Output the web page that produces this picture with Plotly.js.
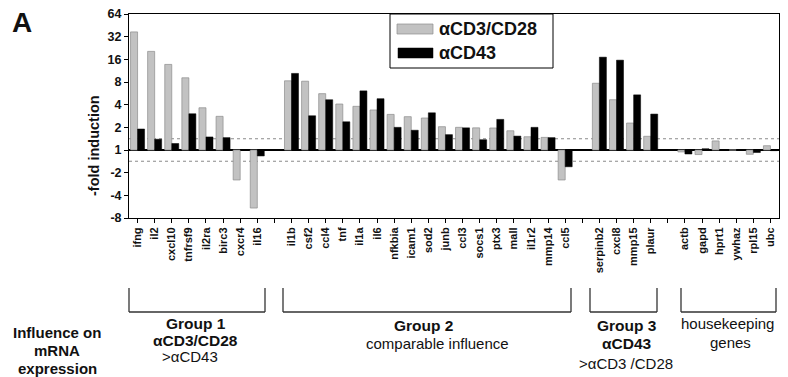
<!DOCTYPE html>
<html>
<head>
<meta charset="utf-8">
<script src="https://cdn.plot.ly/plotly-3.0.1.min.js"></script>
<style>html,body{margin:0;padding:0;background:#fff;}#chart{width:788px;height:377px;}</style>
</head>
<body>
<div id="chart"></div>
<script>
// Gene groups (gap categories separate the groups)
const group1Genes = ['ifng','il2','cxcl10','tnfrsf9','il2ra','birc3','cxcr4','il16'];
const group2Genes = ['il1b','csf2','ccl4','tnf','il1a','il6','nfkbia','icam1','sod2','junb','ccl3','socs1','ptx3','mall','il1r2','mmp14','ccl5'];
const group3Genes = ['serpinb2','cxcl8','mmp15','plaur'];
const hkGenes = ['actb','gapd','hprt1','ywhaz','rpl15','ubc'];
const categories = [...group1Genes, ' ', ...group2Genes, '  ', ...group3Genes, '   ', ...hkGenes];

// Fold induction (negative = fold repression), null at gaps
const foldCD3CD28 = [37, 20.4, 13.7, 9.1, 3.64, 2.8, -2.5, -5.9, null,
  8.3, 8.2, 5.6, 4.08, 3.8, 3.4, 2.97, 2.77, 2.66, 2.04, 2.0, 1.97, 1.96, 1.8, 1.5, 1.47, -2.5, null,
  7.7, 4.65, 2.28, 1.52, null,
  -1.06, -1.15, 1.32, 1, -1.14, 1.14];
const foldCD43 = [1.9, 1.39, 1.22, 3.03, 1.49, 1.46, 1, -1.2, null,
  10.4, 2.85, 4.65, 2.37, 6.1, 4.8, 2.0, 1.83, 3.12, 1.6, 1.97, 1.37, 2.55, 1.53, 2.0, 1.46, -1.67, null,
  17.1, 15.6, 5.4, 3.0, null,
  -1.13, 1.04, 1, 1, -1.08, -1.02];

const yTickFolds = [-8, -4, -2, 1, 2, 4, 8, 16, 32, 64];
const thresholdFold = 1.41;

const toLog = f => f == null ? null : (f >= 1 ? Math.log2(f) : -Math.log2(-f));

const FONT = 'Liberation Sans, Arial, sans-serif';

const traces = [
  {type: 'bar', name: 'αCD3/CD28', x: categories, y: foldCD3CD28.map(toLog),
   marker: {color: '#c2c2c2', line: {color: '#8c8c8c', width: 0.7}}, hoverinfo: 'skip'},
  {type: 'bar', name: 'αCD43', x: categories, y: foldCD43.map(toLog),
   marker: {color: '#000000', line: {color: '#000000', width: 0.5}}, hoverinfo: 'skip'}
];

const px2x = px => (px - 129) / 650;
const px2y = py => (218 - py) / 204;

const shapes = [];
const thr = toLog(thresholdFold);
[thr, -thr].forEach(v => shapes.push({type: 'line', xref: 'paper', yref: 'y', x0: 0, x1: 1, y0: v, y1: v,
  line: {color: '#8a8a8a', width: 1, dash: 'dot'}, layer: 'below'}));

// brackets
const brackets = [[129, 265], [283, 571], [590, 657], [681, 776]];
const bTop = px2y(288), bBot = px2y(312);
brackets.forEach(([a, b]) => {
  const xa = px2x(a), xb = px2x(b);
  const ln = {color: '#333', width: 1.3};
  shapes.push({type: 'line', xref: 'paper', yref: 'paper', x0: xa, x1: xa, y0: bTop, y1: bBot, line: ln});
  shapes.push({type: 'line', xref: 'paper', yref: 'paper', x0: xa, x1: xb, y0: bBot, y1: bBot, line: ln});
  shapes.push({type: 'line', xref: 'paper', yref: 'paper', x0: xb, x1: xb, y0: bTop, y1: bBot, line: ln});
});

// legend
shapes.push({type: 'rect', xref: 'paper', yref: 'paper', x0: px2x(390), x1: px2x(553), y0: px2y(68), y1: px2y(14),
  line: {color: '#000', width: 1}, fillcolor: '#fff'});
shapes.push({type: 'rect', xref: 'paper', yref: 'paper', x0: px2x(397), x1: px2x(433), y0: px2y(34), y1: px2y(24),
  line: {color: '#8c8c8c', width: 0.7}, fillcolor: '#c2c2c2'});
shapes.push({type: 'rect', xref: 'paper', yref: 'paper', x0: px2x(398), x1: px2x(433), y0: px2y(58), y1: px2y(48),
  line: {color: '#000', width: 0.5}, fillcolor: '#000'});

const ann = (text, x, y, size, bold, opts) => Object.assign({
  text, xref: 'paper', yref: 'paper', x: px2x(x), y: px2y(y), showarrow: false,
  xanchor: 'center', yanchor: 'middle',
  font: {family: FONT, size, color: '#111', weight: bold ? 'bold' : 'normal'}
}, opts || {});

const annotations = [
  ann('αCD3/CD28', 437, 29, 18, true, {xanchor: 'left'}),
  ann('αCD43', 437, 53, 18, true, {xanchor: 'left'}),
  ann('A', 22, 23, 28, true),
  ann('-fold induction', 94, 146, 14.5, true, {textangle: -90}),
  ann('Influence on', 57, 332, 15, true),
  ann('mRNA', 57, 350, 15, true),
  ann('expression', 57, 368, 15, true),
  ann('Group 1', 196, 323, 15.5, true),
  ann('αCD3/CD28', 195, 340, 15.5, true),
  ann('>αCD43', 190, 356, 15, false),
  ann('Group 2', 423, 325, 15.5, true),
  ann('comparable influence', 437, 343, 15, false),
  ann('Group 3', 627, 325, 15.5, true),
  ann('αCD43', 627, 343, 15.5, true),
  ann('>αCD3 /CD28', 626, 363, 15, false),
  ann('housekeeping', 727, 323, 15, false),
  ann('genes', 730, 342, 15, false)
];

const layout = {
  width: 788, height: 377,
  margin: {l: 129, r: 9, t: 14, b: 159, pad: 0},
  paper_bgcolor: '#fff', plot_bgcolor: '#fff',
  showlegend: false,
  barmode: 'group', bargap: 0.18, bargroupgap: 0,
  font: {family: FONT, color: '#111'},
  xaxis: {
    type: 'category', range: [-0.5, categories.length - 0.5],
    showline: true, mirror: true, linecolor: '#000', linewidth: 1,
    ticks: 'outside', ticklen: 4, tickcolor: '#000', tickwidth: 1,
    tickangle: -90, tickfont: {family: FONT, size: 11, color: '#111', weight: 'bold'},
    showgrid: false, zeroline: false, fixedrange: true
  },
  yaxis: {
    range: [toLog(-8), toLog(64)],
    tickvals: yTickFolds.map(toLog), ticktext: yTickFolds.map(String),
    showline: true, mirror: true, linecolor: '#000', linewidth: 1,
    ticks: 'outside', ticklen: 4, tickcolor: '#000', tickwidth: 1,
    tickfont: {family: FONT, size: 12.5, color: '#111', weight: 'bold'},
    showgrid: false, zeroline: true, zerolinecolor: '#000', zerolinewidth: 1.2, fixedrange: true
  },
  shapes, annotations
};

Plotly.newPlot('chart', traces, layout, {displayModeBar: false, staticPlot: true});
</script>
</body>
</html>
